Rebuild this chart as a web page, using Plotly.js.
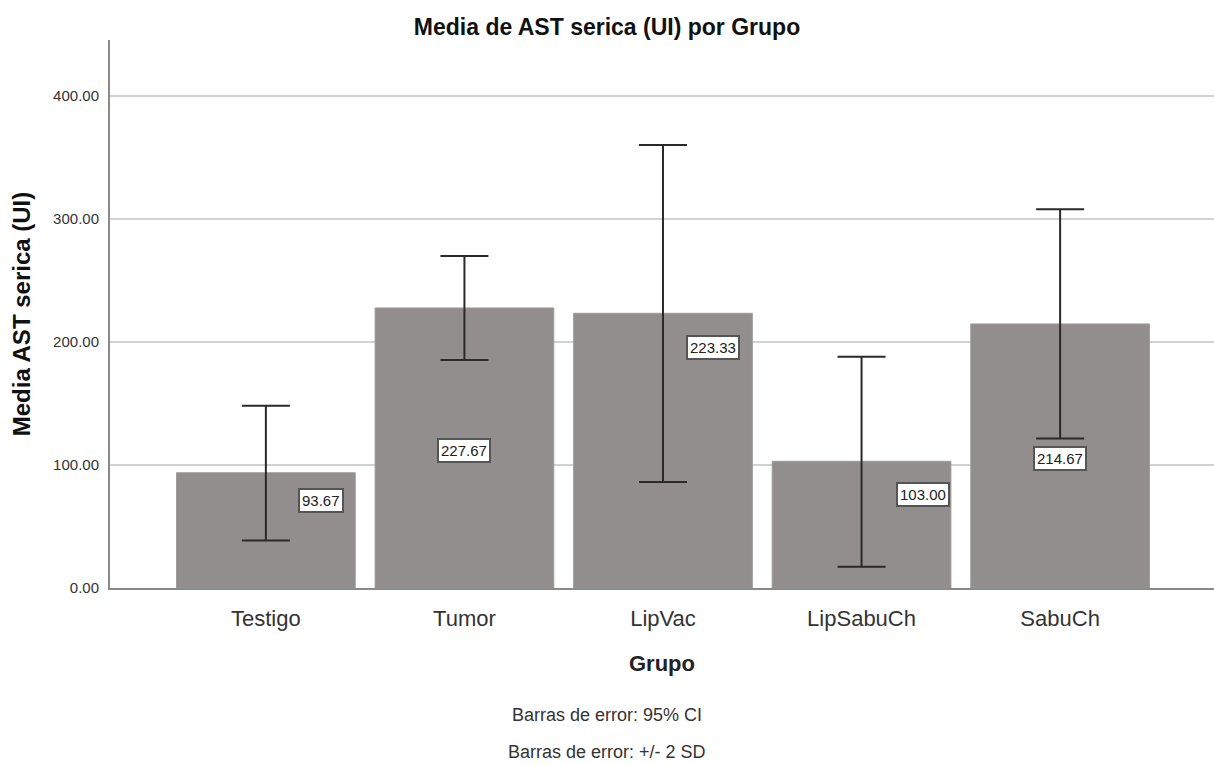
<!DOCTYPE html>
<html>
<head>
<meta charset="utf-8">
<script src="https://cdn.plot.ly/plotly-3.0.1.min.js"></script>
<style>html,body{margin:0;padding:0;background:#fff;}#chart{width:1214px;height:765px;}</style>
</head>
<body>
<div id="chart"></div>
<script>
// Data
const groups = ["Testigo", "Tumor", "LipVac", "LipSabuCh", "SabuCh"];
const means = [93.67, 227.67, 223.33, 103.00, 214.67];
const errUpper = [148.2, 270.0, 360.2, 188.0, 308.0];
const errLower = [38.7, 185.4, 86.2, 17.2, 121.6];
const valueLabels = ["93.67", "227.67", "223.33", "103.00", "214.67"];
const yTicks = [0, 100, 200, 300, 400];

// Label placement (style, not data): x offset in category units, y as fraction of bar
const labelDx = [0.28, 0, 0.25, 0.31, 0];
const labelFrac = [0.76, 0.49, 0.877, 0.74, 0.49];

const sans = 'Arial, "Liberation Sans", sans-serif';

const trace = {
  type: 'bar',
  x: groups.map((g, i) => i),
  y: means,
  width: 0.9,
  marker: {color: '#928e8d', line: {color: '#9f9b9a', width: 1}},
  error_y: {
    type: 'data', symmetric: false,
    array: errUpper.map((u, i) => u - means[i]),
    arrayminus: errLower.map((l, i) => means[i] - l),
    color: '#2a2a2a', thickness: 2, width: 24
  },
  hoverinfo: 'skip'
};

const annotations = means.map((m, i) => ({
  x: i + labelDx[i], y: m * labelFrac[i], xref: 'x', yref: 'y',
  text: valueLabels[i], showarrow: false,
  font: {family: sans, size: 15, color: '#222'},
  bgcolor: '#ffffff', bordercolor: '#555555', borderwidth: 2, borderpad: 2
}));

annotations.push(
  {xref: 'paper', yref: 'paper', x: 0.5, y: 0, yshift: -75, text: 'Grupo', showarrow: false,
   font: {family: sans, size: 22, color: '#222', weight: 'bold'}, yanchor: 'middle'},
  {xref: 'paper', yref: 'paper', x: (607 - 110) / 1104, y: 0, yshift: -127, text: 'Barras de error: 95% CI', showarrow: false,
   font: {family: sans, size: 18, color: '#333'}, yanchor: 'middle'},
  {xref: 'paper', yref: 'paper', x: (607 - 110) / 1104, y: 0, yshift: -164, text: 'Barras de error: +/- 2 SD', showarrow: false,
   font: {family: sans, size: 18, color: '#333'}, yanchor: 'middle'}
);

const layout = {
  width: 1214, height: 765,
  margin: {l: 110, r: 0, t: 40, b: 177, pad: 0},
  paper_bgcolor: '#ffffff', plot_bgcolor: '#ffffff',
  showlegend: false,
  title: {text: 'Media de AST serica (UI) por Grupo', x: 607 / 1214, xanchor: 'center', y: 1 - 27 / 765, yanchor: 'middle',
          font: {family: sans, size: 23, color: '#111', weight: 'bold'}},
  xaxis: {
    range: [-0.785, 4.775], tickmode: 'array', tickvals: groups.map((g, i) => i), ticktext: groups,
    showgrid: false, zeroline: false, showline: true, linecolor: '#8a8a8a', linewidth: 2,
    ticks: '', ticklabelstandoff: 10,
    tickfont: {family: sans, size: 22, color: '#333'}, fixedrange: true
  },
  yaxis: {
    range: [0, 445.5], tickmode: 'array', tickvals: yTicks, tickformat: '.2f',
    showgrid: true, gridcolor: '#d2d2d2', gridwidth: 2, zeroline: false,
    showline: true, linecolor: '#8a8a8a', linewidth: 2, ticks: '', ticklabelstandoff: 6,
    tickfont: {family: sans, size: 15, color: '#333'},
    title: {text: 'Media AST serica (UI)', standoff: 16, font: {family: sans, size: 24, color: '#111', weight: 'bold'}},
    fixedrange: true
  },
  annotations: annotations,
  bargap: 0.1
};

Plotly.newPlot('chart', [trace], layout, {displayModeBar: false, staticPlot: true});
</script>
</body>
</html>
